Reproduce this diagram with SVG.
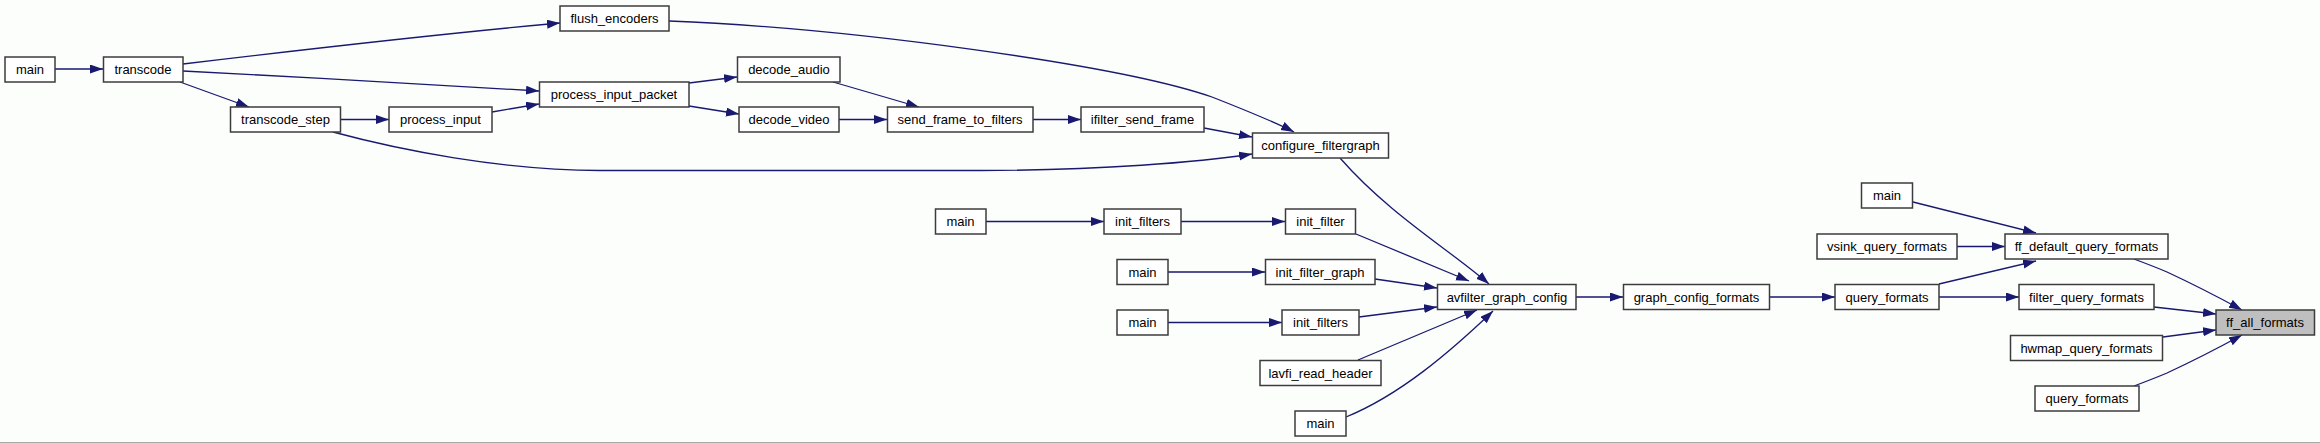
<svg xmlns="http://www.w3.org/2000/svg" width="2320" height="443" viewBox="0 0 2320 443">
<defs>
<marker id="ah" markerUnits="userSpaceOnUse" markerWidth="14" markerHeight="10" refX="13" refY="4.5" orient="auto">
<path d="M0,0 L13,4.5 L0,9 z" fill="#191970"/>
</marker>
<style>
.n rect{fill:#ffffff;stroke:#3c3c3c;stroke-width:1.5}
.n text{font-family:"Liberation Sans",Arial,sans-serif;font-size:13px;fill:#000;text-anchor:middle}
#ff_all_formats rect{fill:#bfbfbf}
#edges path{fill:none;stroke:#191970;stroke-width:1.3;marker-end:url(#ah)}
</style>
</defs>
<rect x="0" y="0" width="2320" height="443" fill="#fcfefc"/>
<line x1="0" y1="442.5" x2="2320" y2="442.5" stroke="#a8a8a8" stroke-width="1"/>
<g id="edges">
<path d="M55,69 L103,69"/>
<path d="M183,64 C300,50 450,33 560,23"/>
<path d="M183,71 C300,77 430,84 539,91"/>
<path d="M180,82 L249,107"/>
<path d="M341,119.5 L389,119.5"/>
<path d="M333,132 C400,150 500,170 600,170.5 L980,170.5 C1100,170.5 1200,162 1252,154"/>
<path d="M492,112 L539,104"/>
<path d="M689,83 L737,77"/>
<path d="M689,106 L739,114"/>
<path d="M833,82 L919,107"/>
<path d="M839,119.5 L887,119.5"/>
<path d="M1033,119.5 L1081,119.5"/>
<path d="M1204,128 L1252,137"/>
<path d="M669,21 C850,28 1120,65 1212,97 C1245,110 1275,122 1294,132"/>
<path d="M1340,158 C1390,215 1450,250 1489,284"/>
<path d="M986,221.5 L1104,221.5"/>
<path d="M1181,221.5 L1285,221.5"/>
<path d="M1356,234 L1469,281"/>
<path d="M1168,272 L1265,272"/>
<path d="M1375,279 L1437,288"/>
<path d="M1168,322.5 L1282,322.5"/>
<path d="M1359,317 L1437,307"/>
<path d="M1358,360 L1477,310"/>
<path d="M1346,417 C1400,395 1450,352 1493,311"/>
<path d="M1576,297 L1623,297"/>
<path d="M1770,297 L1835,297"/>
<path d="M1939,284 L2036,261"/>
<path d="M1939,297 L2019,297"/>
<path d="M1913,202 L2036,233"/>
<path d="M1957,246.5 L2005,246.5"/>
<path d="M2134,259 C2150,265 2160,269 2167,272 C2195,285 2220,298 2242,310"/>
<path d="M2154,307 L2216,314"/>
<path d="M2163,337 L2216,330"/>
<path d="M2134,386 C2150,380 2160,376 2167,373 C2195,360 2220,347 2242,335"/>
</g>
<g id="main_a" class="n"><rect x="5" y="57" width="50" height="25"/><text x="30" y="74">main</text></g>
<g id="transcode" class="n"><rect x="103.5" y="57" width="79.5" height="25"/><text x="143" y="74">transcode</text></g>
<g id="flush_encoders" class="n"><rect x="560" y="6" width="109" height="25"/><text x="614.5" y="23">flush_encoders</text></g>
<g id="process_input_packet" class="n"><rect x="539.5" y="82" width="149.5" height="25"/><text x="614" y="99">process_input_packet</text></g>
<g id="transcode_step" class="n"><rect x="230.5" y="107" width="110" height="25"/><text x="285.5" y="124">transcode_step</text></g>
<g id="process_input" class="n"><rect x="389" y="107" width="103" height="25"/><text x="440.5" y="124">process_input</text></g>
<g id="decode_audio" class="n"><rect x="737.5" y="57" width="102.5" height="25"/><text x="789" y="74">decode_audio</text></g>
<g id="decode_video" class="n"><rect x="739" y="107" width="100" height="25"/><text x="789" y="124">decode_video</text></g>
<g id="send_frame_to_filters" class="n"><rect x="887.5" y="107" width="145.5" height="25"/><text x="960" y="124">send_frame_to_filters</text></g>
<g id="ifilter_send_frame" class="n"><rect x="1081" y="107" width="123" height="25"/><text x="1142.5" y="124">ifilter_send_frame</text></g>
<g id="configure_filtergraph" class="n"><rect x="1252.5" y="133" width="136" height="25"/><text x="1320.5" y="150">configure_filtergraph</text></g>
<g id="main_b" class="n"><rect x="935.5" y="209" width="50.5" height="25"/><text x="960.5" y="226">main</text></g>
<g id="init_filters_a" class="n"><rect x="1104" y="209" width="77" height="25"/><text x="1142.5" y="226">init_filters</text></g>
<g id="init_filter" class="n"><rect x="1285.5" y="209" width="70" height="25"/><text x="1320.5" y="226">init_filter</text></g>
<g id="main_c" class="n"><rect x="1117" y="259.5" width="51" height="25"/><text x="1142.5" y="276.5">main</text></g>
<g id="init_filter_graph" class="n"><rect x="1265.5" y="259.5" width="109.5" height="25"/><text x="1320" y="276.5">init_filter_graph</text></g>
<g id="avfilter_graph_config" class="n"><rect x="1437.5" y="284.5" width="138.5" height="25"/><text x="1507" y="301.5">avfilter_graph_config</text></g>
<g id="graph_config_formats" class="n"><rect x="1623.5" y="284.5" width="146" height="25"/><text x="1696.5" y="301.5">graph_config_formats</text></g>
<g id="main_d" class="n"><rect x="1117" y="310" width="51" height="25"/><text x="1142.5" y="327">main</text></g>
<g id="init_filters_b" class="n"><rect x="1282" y="310" width="77" height="25"/><text x="1320.5" y="327">init_filters</text></g>
<g id="lavfi_read_header" class="n"><rect x="1260" y="360.5" width="121" height="25"/><text x="1320.5" y="377.5">lavfi_read_header</text></g>
<g id="main_e" class="n"><rect x="1295" y="411" width="51" height="25"/><text x="1320.5" y="428">main</text></g>
<g id="main_f" class="n"><rect x="1861.5" y="183" width="51" height="25"/><text x="1887" y="200">main</text></g>
<g id="vsink_query_formats" class="n"><rect x="1817" y="234" width="140" height="25"/><text x="1887" y="251">vsink_query_formats</text></g>
<g id="ff_default_query_formats" class="n"><rect x="2005" y="234" width="163" height="25"/><text x="2086.5" y="251">ff_default_query_formats</text></g>
<g id="query_formats_a" class="n"><rect x="1835" y="284.5" width="104" height="25"/><text x="1887" y="301.5">query_formats</text></g>
<g id="filter_query_formats" class="n"><rect x="2019" y="284.5" width="135" height="25"/><text x="2086.5" y="301.5">filter_query_formats</text></g>
<g id="ff_all_formats" class="n"><rect x="2216" y="310" width="98.5" height="25"/><text x="2265" y="327">ff_all_formats</text></g>
<g id="hwmap_query_formats" class="n"><rect x="2010.5" y="335.5" width="152" height="25"/><text x="2086.5" y="352.5">hwmap_query_formats</text></g>
<g id="query_formats_b" class="n"><rect x="2035" y="386" width="104" height="25"/><text x="2087" y="403">query_formats</text></g>
</svg>
